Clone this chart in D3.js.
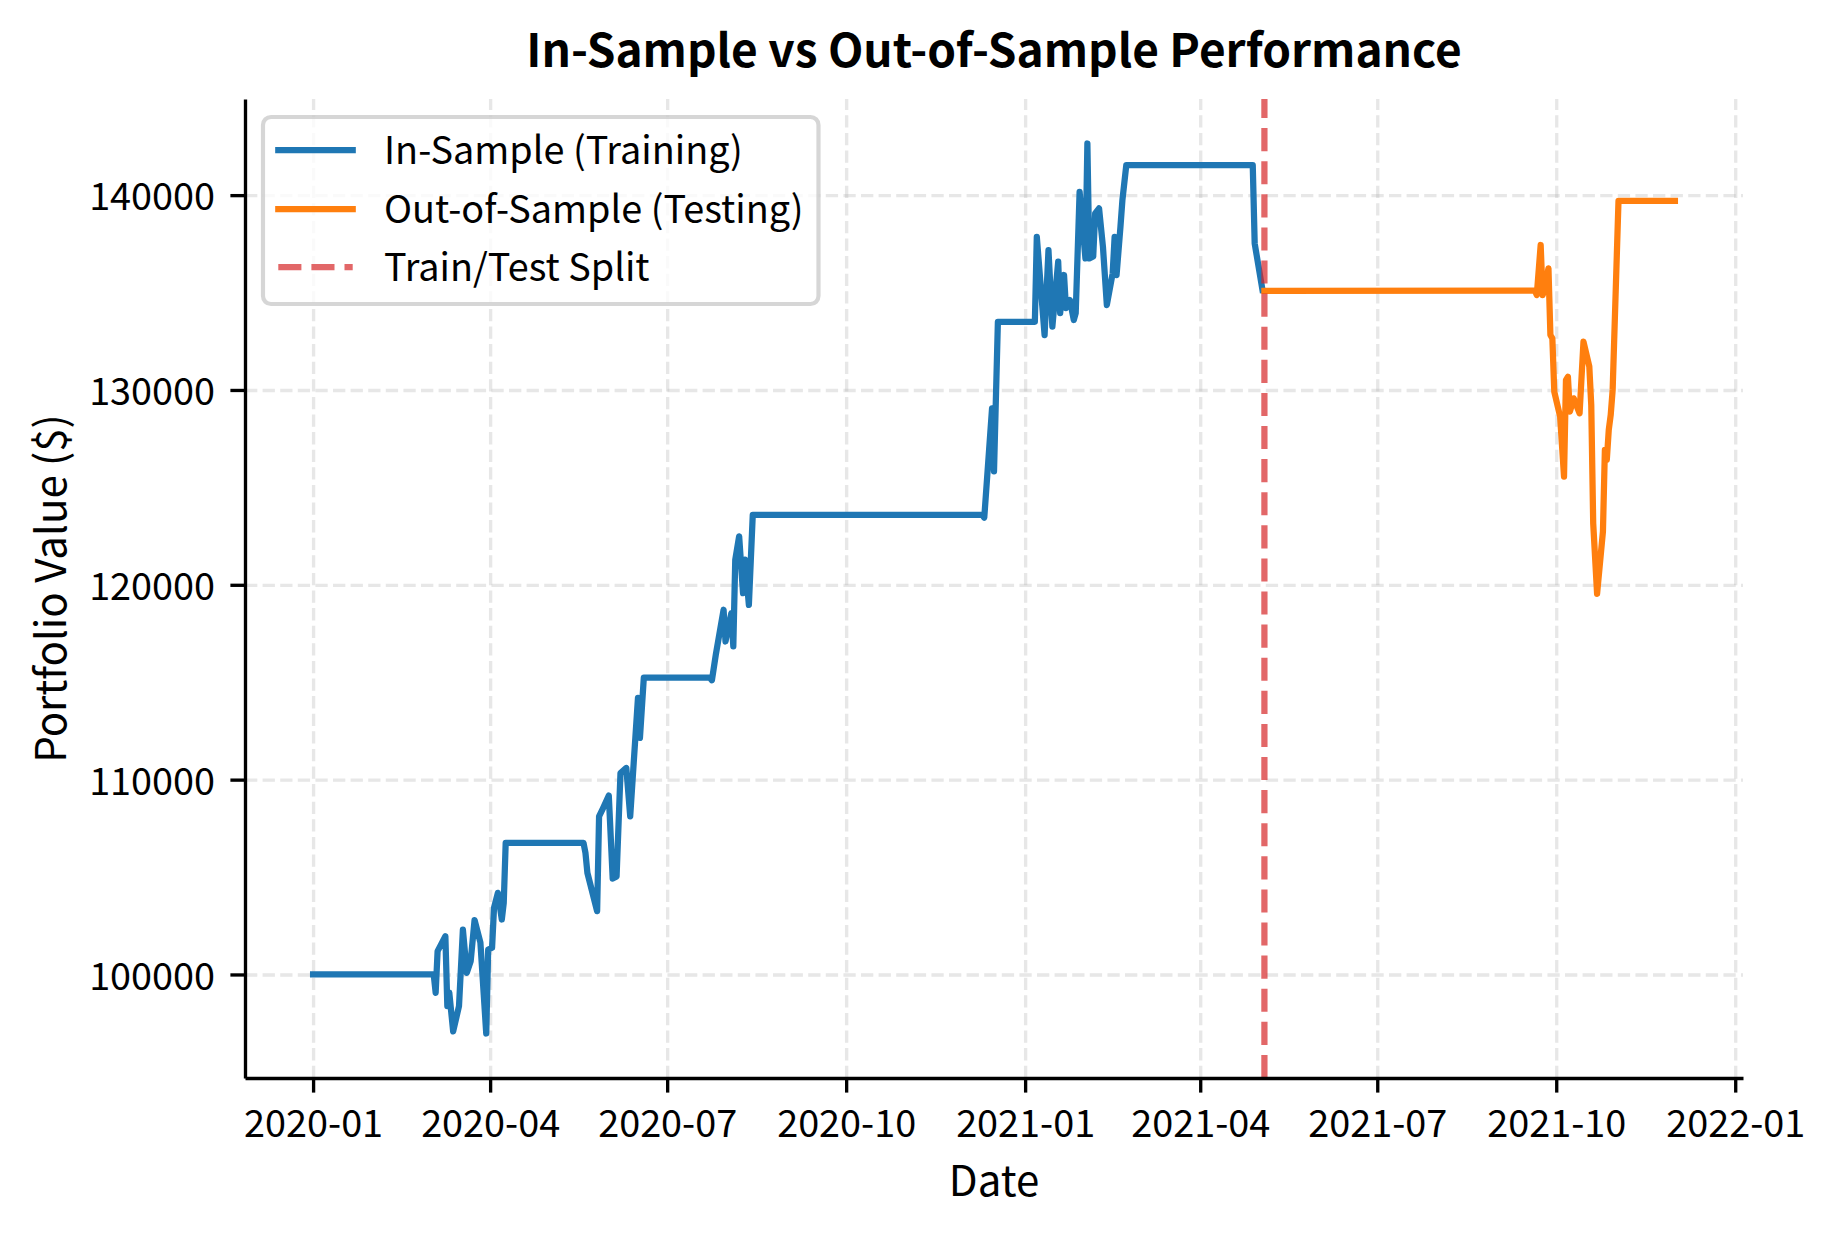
<!DOCTYPE html>
<html>
<head>
<meta charset="utf-8">
<script src="https://cdn.jsdelivr.net/npm/d3@7"></script>
<style>
  body { margin: 0; background: #fff; }
  svg { display: block; }
  text { font-family: "Noto Sans CJK SC", "Source Sans Pro", "Open Sans", sans-serif; }
</style>
</head>
<body>
<svg id="chart" width="1834" height="1234"></svg>
<script>
// In-sample (training) portfolio values
const inSampleDates = [
  "2020-01-01", "2020-03-03", "2020-03-04", "2020-03-05", "2020-03-09", "2020-03-10",
  "2020-03-11", "2020-03-13", "2020-03-16", "2020-03-18", "2020-03-20", "2020-03-22",
  "2020-03-24", "2020-03-27", "2020-03-30", "2020-03-31", "2020-04-02", "2020-04-03",
  "2020-04-05", "2020-04-07", "2020-04-08", "2020-04-09", "2020-05-19", "2020-05-20",
  "2020-05-21", "2020-05-26", "2020-05-27", "2020-05-29", "2020-06-01", "2020-06-03",
  "2020-06-05", "2020-06-07", "2020-06-10", "2020-06-12", "2020-06-16", "2020-06-17",
  "2020-06-19", "2020-07-23", "2020-07-24", "2020-07-26", "2020-07-30", "2020-07-31",
  "2020-08-03", "2020-08-04", "2020-08-05", "2020-08-07", "2020-08-09", "2020-08-10",
  "2020-08-12", "2020-08-14", "2020-12-10", "2020-12-11", "2020-12-15", "2020-12-16",
  "2020-12-18", "2021-01-06", "2021-01-07", "2021-01-11", "2021-01-13", "2021-01-15",
  "2021-01-18", "2021-01-19", "2021-01-21", "2021-01-22", "2021-01-24", "2021-01-26",
  "2021-01-27", "2021-01-29", "2021-02-01", "2021-02-02", "2021-02-03", "2021-02-05",
  "2021-02-06", "2021-02-08", "2021-02-10", "2021-02-12", "2021-02-15", "2021-02-16",
  "2021-02-17", "2021-02-19", "2021-02-20", "2021-02-22", "2021-04-28", "2021-04-29",
  "2021-05-03"
];
const inSampleValues = [
  100000, 100000, 99060, 101200, 101960, 98375,
  99070, 97080, 98375, 102300, 100085, 100680,
  102790, 101640, 96970, 101280, 101370, 103420,
  104190, 102820, 103680, 106750, 106750, 106240,
  105215, 103250, 108120, 108530, 109180, 104920,
  105030, 110340, 110600, 108120, 114200, 112140,
  115230, 115230, 115100, 116410, 118720, 117090,
  118550, 116840, 121290, 122490, 119570, 121290,
  118970, 123590, 123590, 123450, 129060, 125820,
  133500, 133500, 137860, 132820, 137180, 133250,
  136590, 133940, 135900, 134200, 134620, 133590,
  133940, 140170, 136750, 142650, 136750, 136850,
  139060, 139320, 137350, 134360, 135990, 137860,
  135900, 138380, 139740, 141540, 141540, 137520,
  135130
];

// Out-of-sample (testing) portfolio values
const outSampleDates = [
  "2021-05-04", "2021-09-20", "2021-09-21", "2021-09-23", "2021-09-24", "2021-09-25",
  "2021-09-27", "2021-09-28", "2021-09-29", "2021-09-30", "2021-10-03", "2021-10-05",
  "2021-10-06", "2021-10-07", "2021-10-08", "2021-10-10", "2021-10-13", "2021-10-15",
  "2021-10-18", "2021-10-19", "2021-10-20", "2021-10-22", "2021-10-25", "2021-10-26",
  "2021-10-27", "2021-10-28", "2021-10-29", "2021-10-30", "2021-11-02", "2021-12-01"
];
const outSampleValues = [
  135080, 135100, 134870, 137440, 134870, 135130,
  136240, 132820, 132650, 129910, 128630, 125550,
  130510, 130680, 128890, 129570, 128800, 132480,
  131200, 129230, 123160, 119540, 122730, 126920,
  126410, 127950, 128720, 130000, 139710, 139710
];

const splitDate = "2021-05-04";
const yTickValues = [100000, 110000, 120000, 130000, 140000];
const legendLabels = ["In-Sample (Training)", "Out-of-Sample (Testing)", "Train/Test Split"];

const parseDate = d3.utcParse("%Y-%m-%d");
const inSample = inSampleDates.map((d, i) => ({ date: parseDate(d), value: inSampleValues[i] }));
const outSample = outSampleDates.map((d, i) => ({ date: parseDate(d), value: outSampleValues[i] }));
const allPoints = inSample.concat(outSample);

const svg = d3.select("#chart");
const margin = { top: 99, right: 91, bottom: 156, left: 245 };
const width = svg.attr("width") - margin.left - margin.right;
const height = svg.attr("height") - margin.top - margin.bottom;

const colors = { train: "#1f77b4", test: "#ff7f0e", split: "#d62728" };
// Latin glyphs of Noto Sans CJK run ~10% larger than Source Sans, so sizes are scaled down
const tickFont = 37.8;
const labelFont = 42;
const titleFont = 46;

const g = svg.append("g")
    .attr("transform", `translate(${margin.left}, ${margin.top})`);

// scales, with matplotlib-like 5% margins
const xExtent = d3.extent(allPoints, d => d.date);
const xPad = (xExtent[1] - xExtent[0]) * 0.05;
const xScale = d3.scaleUtc()
    .domain([new Date(+xExtent[0] - xPad), new Date(+xExtent[1] + xPad)])
    .range([0, width]);

const yExtent = d3.extent(allPoints, d => d.value);
const yPad = (yExtent[1] - yExtent[0]) * 0.05;
const yScale = d3.scaleLinear()
    .domain([yExtent[0] - yPad, yExtent[1] + yPad])
    .range([height, 0]);

const xTicks = d3.utcMonth.every(3).range(xScale.domain()[0], xScale.domain()[1]);

// grid
g.append("g")
    .attr("class", "grid")
    .attr("transform", `translate(0, ${height})`)
    .call(d3.axisBottom(xScale).tickValues(xTicks).tickSize(-height).tickFormat(""))
    .call(s => s.select(".domain").remove());

g.append("g")
    .attr("class", "grid")
    .call(d3.axisLeft(yScale).tickValues(yTickValues).tickSize(-width).tickFormat(""))
    .call(s => s.select(".domain").remove());

g.selectAll(".grid line")
    .attr("stroke", "#b0b0b0")
    .attr("stroke-opacity", 0.3)
    .attr("stroke-width", 3.33)
    .attr("stroke-dasharray", "12.3 5.3");

// lines
const line = d3.line()
    .x(d => xScale(d.date))
    .y(d => yScale(d.value));

g.append("path")
    .datum(inSample)
    .attr("d", line)
    .attr("fill", "none")
    .attr("stroke", colors.train)
    .attr("stroke-width", 6.25)
    .attr("stroke-linejoin", "round")
    .attr("stroke-linecap", "square");

g.append("path")
    .datum(outSample)
    .attr("d", line)
    .attr("fill", "none")
    .attr("stroke", colors.test)
    .attr("stroke-width", 6.25)
    .attr("stroke-linejoin", "round")
    .attr("stroke-linecap", "square");

// split line (drawn from bottom so the dashes start at the axis)
g.append("line")
    .attr("x1", xScale(parseDate(splitDate)))
    .attr("x2", xScale(parseDate(splitDate)))
    .attr("y1", height)
    .attr("y2", 0)
    .attr("stroke", colors.split)
    .attr("stroke-opacity", 0.7)
    .attr("stroke-width", 6.25)
    .attr("stroke-dasharray", "23.1 10");

// axes
const xAxis = g.append("g")
    .attr("transform", `translate(0, ${height})`)
    .call(d3.axisBottom(xScale)
        .tickValues(xTicks)
        .tickFormat(d3.utcFormat("%Y-%m"))
        .tickSize(14.6)
        .tickPadding(14.6)
        .tickSizeOuter(0));

const yAxis = g.append("g")
    .call(d3.axisLeft(yScale)
        .tickValues(yTickValues)
        .tickFormat(d3.format("d"))
        .tickSize(14.6)
        .tickPadding(14.6)
        .tickSizeOuter(0));

[xAxis, yAxis].forEach(a => {
    a.select(".domain").attr("stroke", "#000").attr("stroke-width", 3.33);
    a.selectAll(".tick line").attr("stroke", "#000").attr("stroke-width", 3.33);
    a.selectAll(".tick text")
        .attr("fill", "#000")
        .style("font-family", "'Noto Sans CJK SC', sans-serif")
        .style("font-size", tickFont + "px");
});
xAxis.selectAll(".tick text").attr("dy", "0.8em");
yAxis.selectAll(".tick text").attr("dy", "0.39em").attr("x", -30);

// title and axis labels
svg.append("text")
    .attr("x", margin.left + width / 2)
    .attr("y", 67)
    .attr("text-anchor", "middle")
    .style("font-size", titleFont + "px")
    .style("font-weight", "bold")
    .text("In-Sample vs Out-of-Sample Performance");

svg.append("text")
    .attr("x", margin.left + width / 2)
    .attr("y", 1196)
    .attr("text-anchor", "middle")
    .style("font-size", labelFont + "px")
    .text("Date");

svg.append("text")
    .attr("transform", `translate(66, ${margin.top + height / 2}) rotate(-90)`)
    .attr("text-anchor", "middle")
    .style("font-size", labelFont + "px")
    .text("Portfolio Value ($)");

// legend
const legend = svg.append("g").attr("class", "legend");
const legendBox = legend.append("rect")
    .attr("x", 263)
    .attr("y", 117)
    .attr("height", 187)
    .attr("rx", 8)
    .attr("fill", "#fff")
    .attr("fill-opacity", 0.8)
    .attr("stroke", "#cccccc")
    .attr("stroke-opacity", 0.8)
    .attr("stroke-width", 4.17);

const rowY = [150, 209, 267];
const legendStyles = [
    { color: colors.train, opacity: 1, dash: null },
    { color: colors.test, opacity: 1, dash: null },
    { color: colors.split, opacity: 0.7, dash: "23.1 10" }
];

let textRight = 0;
legendLabels.forEach((label, i) => {
    const st = legendStyles[i];
    legend.append("line")
        .attr("x1", 278.3)
        .attr("x2", 352.7)
        .attr("y1", rowY[i])
        .attr("y2", rowY[i])
        .attr("stroke", st.color)
        .attr("stroke-opacity", st.opacity)
        .attr("stroke-width", 6.25)
        .attr("stroke-linecap", st.dash ? "butt" : "square")
        .attr("stroke-dasharray", st.dash);
    const t = legend.append("text")
        .attr("x", 384)
        .attr("y", rowY[i] + 14)
        .style("font-size", tickFont + "px")
        .text(label);
    textRight = Math.max(textRight, 384 + t.node().getComputedTextLength());
});
legendBox.attr("width", textRight + 15 - 263);
</script>
</body>
</html>
